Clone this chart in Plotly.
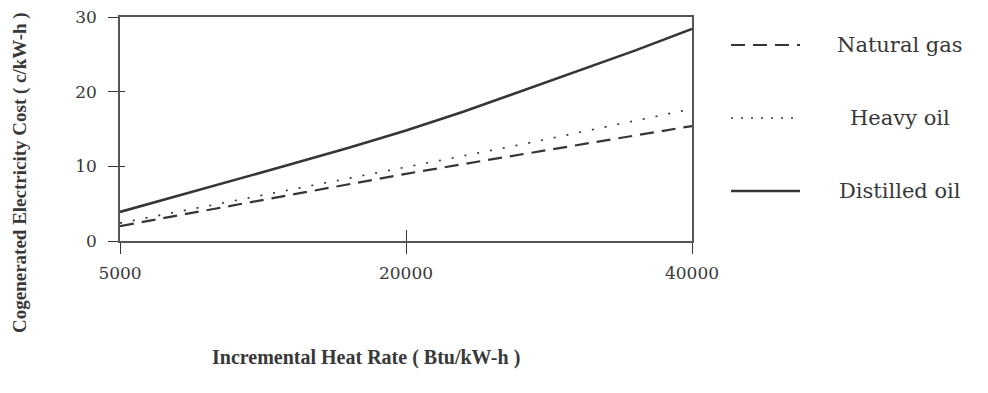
import plotly.graph_objects as go

# Data
heat_rate = ["5000", "8000", "11000", "14000", "17000", "20000",
             "24000", "28000", "32000", "36000", "40000"]
natural_gas = [2.0, 3.4, 4.8, 6.2, 7.6, 9.0, 10.3, 11.6, 12.8, 14.1, 15.4]
heavy_oil = [2.4, 3.9, 5.4, 6.8, 8.3, 9.8, 11.4, 12.9, 14.5, 16.1, 17.7]
distilled_oil = [3.9, 6.0, 8.1, 10.3, 12.5, 14.8, 17.3, 20.0, 22.7, 25.5, 28.4]
x_tick_labels = ["5000", "20000", "40000"]
y_ticks = [0, 10, 20, 30]
series_names = ["Natural gas", "Heavy oil", "Distilled oil"]

INK = "#353535"
TXT = "#383838"
SERIF = "Liberation Serif, Times New Roman, serif"
WIDE_SERIF = "DejaVu Serif, Liberation Serif, serif"

# The page body has an 8px margin, so the figure is drawn 8px in from the page corner.
OFF = 8
W, H = 988 - 2 * OFF, 393 - 2 * OFF
# plot area in page pixels
L, R, T, B = 120, 692, 17, 241


def px_x(px):
    return (px - L) / (R - L)


def px_y(py):
    return (B - py) / (B - T)


fig = go.Figure()
fig.add_trace(go.Scatter(x=heat_rate, y=natural_gas, mode="lines", name=series_names[0],
                         line=dict(color=INK, width=2.2, dash="14px,8px"), showlegend=False))
fig.add_trace(go.Scatter(x=heat_rate, y=heavy_oil, mode="lines", name=series_names[1],
                         line=dict(color=INK, width=1.7, dash="2px,11px"), showlegend=False))
fig.add_trace(go.Scatter(x=heat_rate, y=distilled_oil, mode="lines", name=series_names[2],
                         line=dict(color=INK, width=2.6), showlegend=False))
# invisible trace anchoring the overlay axes that draw the inner halves of the crossing ticks
fig.add_trace(go.Scatter(x=[0], y=[0], mode="markers", marker=dict(opacity=0),
                         xaxis="x2", yaxis="y2", showlegend=False, hoverinfo="skip"))

fig.update_layout(
    width=W, height=H,
    margin=dict(l=L - OFF, r=W - (R - OFF), t=T - OFF, b=H - (B - OFF), pad=0,
                autoexpand=False),
    paper_bgcolor="white", plot_bgcolor="white",
    xaxis=dict(type="category", range=[0, len(heat_rate) - 1], automargin=False,
               tickmode="array", tickvals=x_tick_labels, ticktext=x_tick_labels,
               ticks="outside", ticklen=11, tickwidth=1.2, tickcolor=INK,
               showline=True, linecolor="#555", linewidth=1.6, mirror=True,
               showgrid=False, zeroline=False, ticklabelstandoff=5,
               ticklabeloverflow="allow",
               tickfont=dict(family=WIDE_SERIF, size=17, color=TXT)),
    yaxis=dict(range=[0, 30], tickmode="array", tickvals=y_ticks, automargin=False,
               ticks="outside", ticklen=10, tickwidth=1.2, tickcolor=INK,
               showline=True, linecolor="#555", linewidth=1.6, mirror=True,
               showgrid=False, zeroline=False, ticklabelstandoff=8,
               ticklabeloverflow="allow",
               tickfont=dict(family=WIDE_SERIF, size=17, color=TXT)),
    xaxis2=dict(overlaying="x", range=[0, 10], tickmode="array", tickvals=[0, 5, 10],
                ticks="inside", ticklen=11, tickwidth=1.2, tickcolor=INK, automargin=False,
                showticklabels=False, showline=False, showgrid=False, zeroline=False),
    yaxis2=dict(overlaying="y", range=[0, 30], tickmode="array", tickvals=y_ticks,
                ticks="inside", ticklen=5, tickwidth=1.2, tickcolor=INK, automargin=False,
                showticklabels=False, showline=False, showgrid=False, zeroline=False),
    showlegend=False,
)

annotations = [
    dict(text="Incremental Heat Rate ( Btu/kW-h )", x=px_x(366), y=px_y(357),
         xref="paper", yref="paper", showarrow=False, xanchor="center", yanchor="middle",
         font=dict(family=SERIF, size=20, color=TXT, weight="bold")),
    dict(text="Cogenerated Electricity Cost ( c/kW-h )", x=px_x(20), y=px_y(173),
         xref="paper", yref="paper", showarrow=False, xanchor="center", yanchor="middle",
         textangle=-90, font=dict(family=SERIF, size=19, color=TXT, weight="bold")),
]

# custom legend (line samples + labels to the right of the plot)
legend_rows = [45, 118, 191]
legend_dash = ["14px,8px", "2px,8px", "solid"]
legend_width = [2.0, 1.4, 2.4]
shapes = []
for name, row, dash, lw in zip(series_names, legend_rows, legend_dash, legend_width):
    shapes.append(dict(type="line", xref="paper", yref="paper",
                       x0=px_x(731), x1=px_x(800), y0=px_y(row), y1=px_y(row),
                       line=dict(color=INK, width=lw, dash=dash)))
    annotations.append(dict(text=name, x=px_x(900), y=px_y(row), xref="paper", yref="paper",
                            showarrow=False, xanchor="center", yanchor="middle",
                            font=dict(family=WIDE_SERIF, size=21, color=TXT)))

fig.update_layout(annotations=annotations, shapes=shapes)
fig.write_html("out.html")
